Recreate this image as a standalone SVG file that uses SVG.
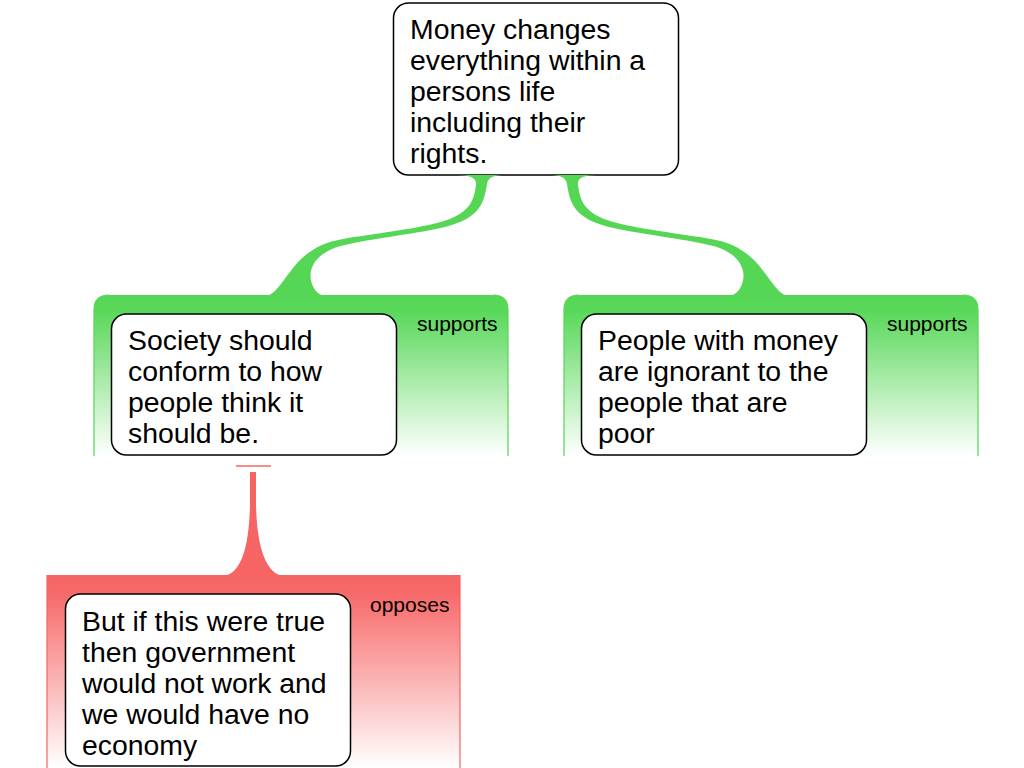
<svg xmlns="http://www.w3.org/2000/svg" width="1024" height="768" viewBox="0 0 1024 768">
<style>
.node{fill:#fff;stroke:#000;stroke-width:1.5}
.t{font-family:"Liberation Sans",Arial,sans-serif;font-size:28.4px;fill:#000}
.lbl{font-family:"Liberation Sans",Arial,sans-serif;font-size:21px;fill:#000}
.gside{fill:none;stroke:#55d655;stroke-width:1.2}
.rside{fill:none;stroke:#f66464;stroke-width:1.2}
.gc{fill:#55d655}
.rc{fill:#f66464}
</style>
<defs>
<linearGradient id="gg" x1="0" y1="0" x2="0" y2="1">
<stop offset="0" stop-color="#55d655"/>
<stop offset="0.1" stop-color="#5ad85a"/>
<stop offset="1" stop-color="#ffffff"/>
</linearGradient>
<linearGradient id="rg" x1="0" y1="0" x2="0" y2="1">
<stop offset="0" stop-color="#f66464"/>
<stop offset="0.1" stop-color="#f76a6a"/>
<stop offset="1" stop-color="#ffffff"/>
</linearGradient>
</defs>
<rect width="1024" height="768" fill="#fff"/>

<g id="group-support-left">
<path d="M94,456 L94,310 Q94,295 109,295 L493,295 Q508,295 508,310 L508,456 Z" fill="url(#gg)"/>
<path class="gside" d="M94,456 L94,310 Q94,295 109,295 M493,295 Q508,295 508,310 L508,456"/>
<text class="lbl" x="417" y="331">supports</text>
</g>
<g id="group-support-right">
<path d="M564,456 L564,310 Q564,295 579,295 L963,295 Q978,295 978,310 L978,456 Z" fill="url(#gg)"/>
<path class="gside" d="M564,456 L564,310 Q564,295 579,295 M963,295 Q978,295 978,310 L978,456"/>
<text class="lbl" x="887" y="331">supports</text>
</g>
<g id="group-oppose">
<path d="M47,768 L47,575 L460,575 L460,768 Z" fill="url(#rg)"/>
<path class="rside" d="M47,768 L47,575 M460,575 L460,768"/>
<text class="lbl" x="370" y="612">opposes</text>
</g>

<g id="node-root">
<rect class="node" x="393.5" y="3" width="285" height="172" rx="15"/>
<text class="t" x="410" y="38.5">Money changes</text>
<text class="t" x="410" y="69.5">everything within a</text>
<text class="t" x="410" y="100.5">persons life</text>
<text class="t" x="410" y="131.5">including their</text>
<text class="t" x="410" y="162.5">rights.</text>
</g>
<g id="node-society">
<rect class="node" x="111.5" y="314" width="285" height="141" rx="15"/>
<text class="t" x="128" y="349.5">Society should</text>
<text class="t" x="128" y="380.5">conform to how</text>
<text class="t" x="128" y="411.5">people think it</text>
<text class="t" x="128" y="442.5">should be.</text>
</g>
<g id="node-people">
<rect class="node" x="581.5" y="314" width="285" height="141" rx="15"/>
<text class="t" x="598" y="349.5">People with money</text>
<text class="t" x="598" y="380.5">are ignorant to the</text>
<text class="t" x="598" y="411.5">people that are</text>
<text class="t" x="598" y="442.5">poor</text>
</g>
<g id="node-government">
<rect class="node" x="65.5" y="594" width="285" height="172" rx="15"/>
<text class="t" x="82" y="630.5">But if this were true</text>
<text class="t" x="82" y="661.5">then government</text>
<text class="t" x="82" y="692.5">would not work and</text>
<text class="t" x="82" y="723.5">we would have no</text>
<text class="t" x="82" y="754.5">economy</text>
</g>

<g id="connectors">
<path id="c-left" class="gc" d="M457,175 L506,175 C494,175 488,177 487,184 C484,205 478,218 447,226.5 C420,233.5 370,238.5 343,245.5 C318,251 306,268 312,284 C315,292 320,296 327,296 L267,296 C275,294 282,282 290,272 C302,255 318,243 343,239 C370,234 420,229 447,220 C470,212 474,200 476,185 C477,178 470,175 457,175 Z"/>
<path id="c-right" class="gc" transform="translate(1054,0) scale(-1,1)" d="M457,175 L506,175 C494,175 488,177 487,184 C484,205 478,218 447,226.5 C420,233.5 370,238.5 343,245.5 C318,251 306,268 312,284 C315,292 320,296 327,296 L267,296 C275,294 282,282 290,272 C302,255 318,243 343,239 C370,234 420,229 447,220 C470,212 474,200 476,185 C477,178 470,175 457,175 Z"/>
<g id="c-oppose">
<line x1="236" y1="466" x2="271" y2="466" stroke="#f66464" stroke-width="1.5"/>
<path class="rc" d="M250,472 L256,472 L256,505 C257,548 266,573 283,576 L224,576 C241,573 249,548 250,505 Z"/>
</g>
</g>
</svg>
